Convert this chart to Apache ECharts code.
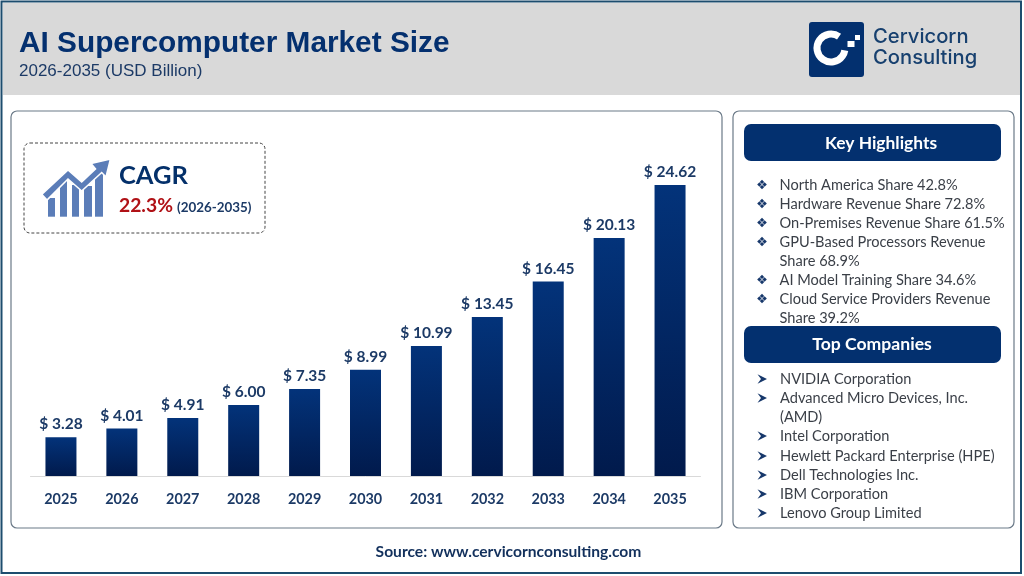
<!DOCTYPE html>
<html><head><meta charset="utf-8">
<style>html,body{margin:0;padding:0;background:#fff}#c{width:1024px;height:576px}</style>
<script src="https://cdn.jsdelivr.net/npm/echarts@6/dist/echarts.min.js"></script>
</head><body><div id="c"></div>
<script>
const years = ['2025','2026','2027','2028','2029','2030','2031','2032','2033','2034','2035'];
const marketSize = [3.28,4.01,4.91,6.00,7.35,8.99,10.99,13.45,16.45,20.13,24.62];
const highlights = [
  ['North America Share 42.8%',true],['Hardware Revenue Share 72.8%',true],['On-Premises Revenue Share 61.5%',true],
  ['GPU-Based Processors Revenue',true],['Share 68.9%',false],['AI Model Training Share 34.6%',true],
  ['Cloud Service Providers Revenue',true],['Share 39.2%',false]];
const companies = [
  ['NVIDIA Corporation',true],['Advanced Micro Devices, Inc.',true],['(AMD)',false],['Intel Corporation',true],
  ['Hewlett Packard Enterprise (HPE)',true],['Dell Technologies Inc.',true],['IBM Corporation',true],['Lenovo Group Limited',true]];
const highlightY = [185,204,223,242,261,280,299,318];
const companyY = [379,398,417,436,456,475,494,513];

const NAVY='#03306f', INK='#3a3f47', LAB='#1c3a66', BODY='Lato, "Open Sans", sans-serif';
const T=(x,y,text,size,fill,opt={})=>({type:'text',z:opt.z||5,x,y,style:{text,fontFamily:opt.font||BODY,fontSize:size,fontWeight:opt.weight||'normal',fill,align:opt.align||'left',verticalAlign:'middle'}});
const R=(x,y,w,h,r,style,z=1)=>({type:'rect',z,shape:{x,y,width:w,height:h,r},style});
const P=(points,fill,z=3,extra={})=>({type:'polygon',z,shape:{points},style:Object.assign({fill},extra)});
const panel={fill:'#fff',stroke:'#6b7a88',lineWidth:1.2};
const clover=(cx,cy)=>[[0,-2.6],[2.6,0],[0,2.6],[-2.6,0]].map(o=>{const x=cx+o[0],y=cy+o[1],r=2.2;return P([[x,y-r],[x+r,y],[x,y+r],[x-r,y]],'#17386b',3);});
const arrow=(y)=>P([[757.5,y-4.8],[767,y],[757.5,y+4.8],[761,y]],'#17386b',3);

const g=[
  R(3,3,1018,92,0,{fill:'#d9d9d9'},1),
  R(1.5,1.5,1019.5,571.5,0,{fill:'none',stroke:'#1d4d6e',lineWidth:2},9),
  R(11,111,711,417,6,panel,1),
  R(733,111,281,417,6,panel,1),
  R(24,143,241,90,6,{fill:'#fff',stroke:'#444',lineWidth:1,lineDash:[3,2]},2),
  // trend icon
  ...[[48,55,198],[60,67,178],[72,79,185],[84,92,186],[95,103,170]].map(b=>R(b[0],b[2],b[1]-b[0],216.7-b[2],0,{fill:'#5b7db8'},3)),
  P([[41.7,194.3],[68,170],[81.7,182],[95.5,169],[91,163.5],[110.5,159],[106,177],[101.7,172.5],[81.7,191],[68,179],[47,200]],'#5b7db8',4,{stroke:'#fff',lineWidth:1.6}),
  T(119,176,'CAGR',25.5,'#04306a',{weight:'bold'}),
  T(119,206,'22.3%',19.3,'#b01116',{weight:'bold'}),
  T(177,208,'(2026-2035)',13.4,'#1c3a66',{weight:'bold'}),
  // logo
  R(809,22,55,55,3,{fill:NAVY},2),
  {type:'arc',z:3,shape:{cx:831,cy:48,r:14,startAngle:-0.96,endAngle:0.17,clockwise:false},style:{fill:'none',stroke:'#fff',lineWidth:7}},
  R(847.5,41,7,6,0,{fill:'#fff'},3),R(855,35,5,5,0,{fill:'#fff'},3),
  T(873,37,'Cervicorn',20.2,'#17406f',{font:'Inter, sans-serif',weight:500}),
  T(873,58,'Consulting',20.2,'#17406f',{font:'Inter, sans-serif',weight:500}),
  // side lists
  ...highlights.flatMap((h,i)=>{const a=[T(779.5,highlightY[i],h[0],14.6,INK,{z:3})]; return h[1]?a.concat(clover(762,highlightY[i]-0.5)):a;}),
  ...companies.flatMap((h,i)=>{const a=[T(780,companyY[i],h[0],14.6,INK,{z:3})]; return h[1]?a.concat(arrow(companyY[i])):a;}),
  R(744,124,257,37,7,{fill:NAVY},4),
  R(744,326,257,37,7,{fill:NAVY},4),
  T(881,143,'Key Highlights',17.4,'#fff',{weight:'bold',align:'center'}),
  T(872,344,'Top Companies',17.6,'#fff',{weight:'bold',align:'center'}),
  T(508.5,552,'Source: www.cervicornconsulting.com',15.6,'#12305c',{weight:'bold',align:'center'})
];

const chart=echarts.init(document.getElementById('c'),null,{renderer:'canvas'});
chart.setOption({
  animation:false,
  backgroundColor:'transparent',
  title:{left:14,top:24,text:'AI Supercomputer Market Size',itemGap:4,z:6,
    textStyle:{fontFamily:'"Liberation Sans"',fontSize:29.8,fontWeight:'bold',color:'#04306f'},
    subtext:'2026-2035 (USD Billion)',
    subtextStyle:{fontFamily:'"Liberation Sans"',fontSize:17,color:'#1c3a66'}},
  grid:{left:30.5,right:323.5,top:180.5,height:295.5,containLabel:false},
  xAxis:{type:'category',data:years,z:6,axisTick:{show:false},
    axisLine:{lineStyle:{color:'#d9d9d9',width:1}},
    axisLabel:{margin:16,fontFamily:BODY,fontSize:14.4,fontWeight:'bold',color:LAB}},
  yAxis:{type:'value',min:0,max:25,show:false,splitLine:{show:false}},
  series:[{type:'bar',data:marketSize,barWidth:31,z:5,
    itemStyle:{color:new echarts.graphic.LinearGradient(0,0,0,1,[{offset:0,color:'#03337a'},{offset:1,color:'#011a4c'}])},
    label:{show:true,position:'top',distance:5,fontFamily:BODY,fontSize:15.5,fontWeight:'bold',color:LAB,
      formatter:p=>'$ '+p.value.toFixed(2)}}],
  graphic:{elements:g}
});
</script></body></html>
